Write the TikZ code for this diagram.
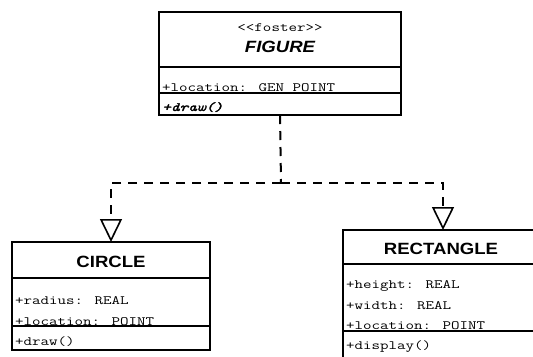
\documentclass[tikz,border=0pt]{standalone}
\usepackage{fontspec}
\usetikzlibrary{arrows.meta}
\newfontfamily\titlefont[FakeStretch=1.14]{Liberation Sans}
\newfontfamily\monofont[FakeStretch=1.3]{Latin Modern Mono}
\newfontfamily\monobold[FakeStretch=1.3, FakeBold=2]{Latin Modern Mono}
\begin{document}
\begin{tikzpicture}[x=1bp,y=-1bp,
  comp/.style={draw, line width=1.6bp, inner sep=0, outer sep=0},
  title/.style={inner sep=0, font=\titlefont\fontsize{16.3bp}{18bp}\selectfont\bfseries},
  stereo/.style={inner sep=0, font=\monofont\fontsize{12.7bp}{14bp}\selectfont},
  row/.style={anchor=base west, inner sep=0, font=\monofont\fontsize{12.7bp}{14bp}\selectfont},
  dep/.style={line width=2bp, dash pattern=on 9bp off 7bp,
    -{Triangle[open, length=23bp, width=22bp, line width=1.6bp]}}]
\useasboundingbox (0,0) rectangle (533,356);
\clip (0,0) rectangle (533,356);
% FIGURE
\node[comp, minimum width=242bp, minimum height=55bp] (fighead) at (280,39.5) {};
\node[comp, minimum width=242bp, minimum height=26bp] (figattr) at (280,80) {};
\node[comp, minimum width=242bp, minimum height=22bp] (figops) at (280,104) {};
\node[stereo] (figst) at (280,28) {<\kern0pt<foster>\kern0pt>};
\node[title, font=\titlefont\fontsize{16.3bp}{18bp}\selectfont\bfseries\itshape] (figname) at (280,47) {FIGURE};
\node[row] (figa1) at (162,91) {+location: GEN POINT};
\node[row, font=\monobold\fontsize{12.7bp}{14bp}\selectfont\itshape] (figm1) at (162,111) {+draw()};
% CIRCLE
\node[comp, minimum width=198bp, minimum height=36bp] (circhead) at (111,260) {};
\node[comp, minimum width=198bp, minimum height=48bp] (circattr) at (111,302) {};
\node[comp, minimum width=198bp, minimum height=24bp] (circops) at (111,338) {};
\node[title] (circname) at (111,262) {CIRCLE};
\node[row] (circa1) at (15,304) {+radius: REAL};
\node[row] (circa2) at (15,325) {+location: POINT};
\node[row] (circm1) at (15,345) {+draw()};
% RECTANGLE
\node[comp, minimum width=200bp, minimum height=34bp] (recthead) at (443,247) {};
\node[comp, minimum width=200bp, minimum height=67bp] (rectattr) at (443,297.5) {};
\node[comp, minimum width=200bp, minimum height=49bp] (rectops) at (443,355.5) {};
\node[title] (rectname) at (441,249) {RECTANGLE};
\node[row] (recta1) at (346,288) {+height: REAL};
\node[row] (recta2) at (346,309) {+width: REAL};
\node[row] (recta3) at (346,329) {+location: POINT};
\node[row] (rectm1) at (346,349) {+display()};
% connectors
\coordinate (j) at (281,183);
\draw[line width=2bp, dash pattern=on 9bp off 7bp] (figops.south) -- (j);
\draw[dep] (j) -| (circhead.north);
\draw[dep] (j) -| (recthead.north);
\end{tikzpicture}
\end{document}
